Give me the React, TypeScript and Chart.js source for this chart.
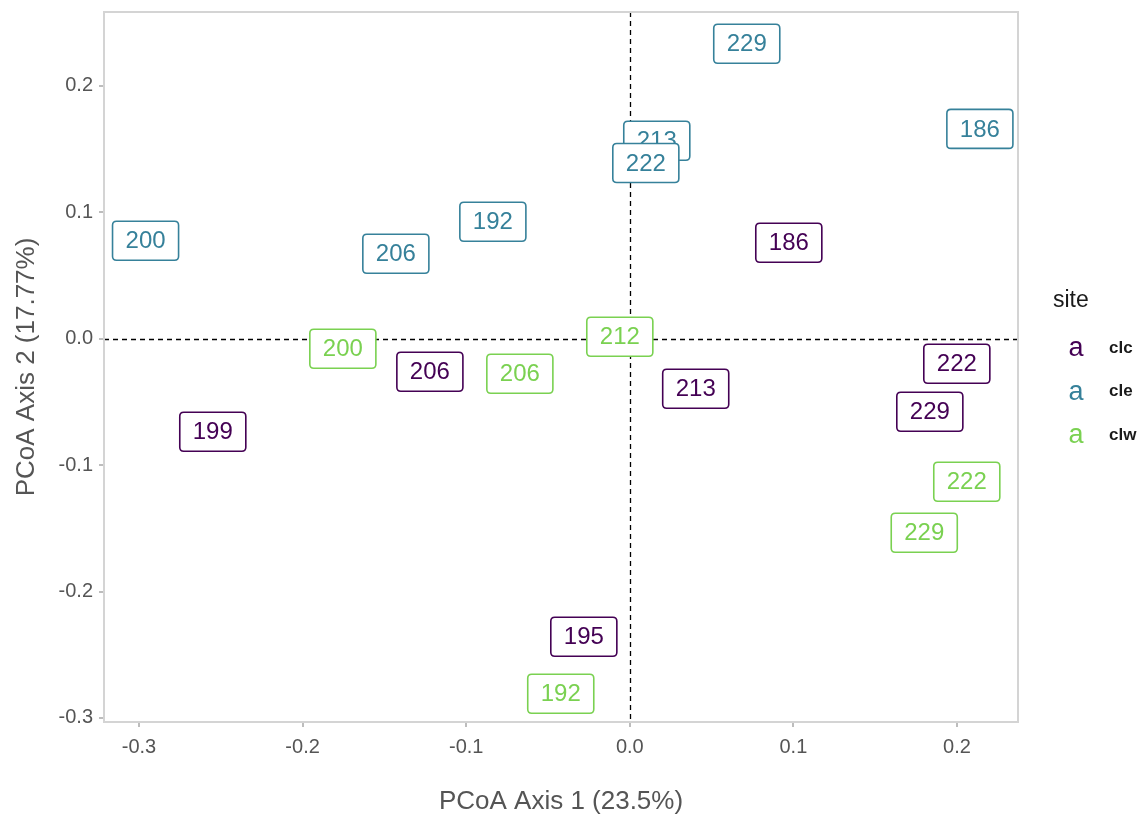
import React, { useEffect, useRef } from "react";
import { Chart, registerables } from "chart.js";

Chart.register(...registerables);

const siteNames = ["clc", "cle", "clw"];
const siteColors = ["#440154", "#36819A", "#7AD151"];

const clcLabels = ["186", "222", "229", "213", "206", "199", "195"];
const clcX = [0.0972, 0.1999, 0.1834, 0.0403, -0.1222, -0.2549, -0.0281];
const clcY = [0.076, -0.0198, -0.0578, -0.0396, -0.0261, -0.0736, -0.2358];

const cleLabels = ["229", "186", "213", "222", "192", "206", "200"];
const cleX = [0.0715, 0.214, 0.0165, 0.0098, -0.0837, -0.143, -0.296];
const cleY = [0.2334, 0.166, 0.1566, 0.139, 0.0926, 0.0672, 0.0775];

const clwLabels = ["200", "212", "206", "222", "229", "192"];
const clwX = [-0.1754, -0.0061, -0.0672, 0.206, 0.18, -0.0422];
const clwY = [-0.0079, 0.0016, -0.0277, -0.1131, -0.1535, -0.2809];

const xTicks = [-0.3, -0.2, -0.1, 0.0, 0.1, 0.2];
const yTicks = [-0.3, -0.2, -0.1, 0.0, 0.1, 0.2];

const xTitle = "PCoA Axis 1 (23.5%)";
const yTitle = "PCoA Axis 2 (17.77%)";
const legendTitle = "site";

const FONT = "'Liberation Sans', Arial, sans-serif";

function roundRect(ctx: CanvasRenderingContext2D, x: number, y: number, w: number, h: number, r: number) {
  ctx.beginPath();
  ctx.moveTo(x + r, y);
  ctx.lineTo(x + w - r, y);
  ctx.quadraticCurveTo(x + w, y, x + w, y + r);
  ctx.lineTo(x + w, y + h - r);
  ctx.quadraticCurveTo(x + w, y + h, x + w - r, y + h);
  ctx.lineTo(x + r, y + h);
  ctx.quadraticCurveTo(x, y + h, x, y + h - r);
  ctx.lineTo(x, y + r);
  ctx.quadraticCurveTo(x, y, x + r, y);
  ctx.closePath();
}

const panelPlugin = {
  id: "panel",
  beforeDatasetsDraw(chart: any) {
    const { ctx, chartArea, scales } = chart;
    const x0 = scales.x.getPixelForValue(0);
    const y0 = scales.y.getPixelForValue(0);
    ctx.save();
    ctx.strokeStyle = "#000000";
    ctx.lineWidth = 1.3;
    ctx.setLineDash([5, 4]);
    ctx.beginPath();
    ctx.moveTo(Math.round(x0) + 0.5, chartArea.top);
    ctx.lineTo(Math.round(x0) + 0.5, chartArea.bottom);
    ctx.moveTo(chartArea.left, Math.round(y0) + 0.5);
    ctx.lineTo(chartArea.right, Math.round(y0) + 0.5);
    ctx.stroke();
    ctx.restore();
  },
  afterDatasetsDraw(chart: any) {
    const { ctx, chartArea } = chart;
    ctx.save();
    ctx.font = `24px ${FONT}`;
    ctx.textAlign = "center";
    ctx.textBaseline = "middle";
    chart.data.datasets.forEach((ds: any, di: number) => {
      const meta = chart.getDatasetMeta(di);
      meta.data.forEach((pt: any, i: number) => {
        const label = ds.labelsText[i];
        const tw = ctx.measureText(label).width;
        const w = tw + 26;
        const h = 39;
        const x = pt.x - w / 2;
        const y = pt.y - h / 2;
        roundRect(ctx, x, y, w, h, 4);
        ctx.fillStyle = "#ffffff";
        ctx.fill();
        ctx.lineWidth = 1.6;
        ctx.strokeStyle = ds.borderColor;
        ctx.stroke();
        ctx.fillStyle = ds.borderColor;
        ctx.fillText(label, pt.x, pt.y + 1);
      });
    });
    // panel border
    ctx.strokeStyle = "#D4D4D4";
    ctx.lineWidth = 2;
    ctx.setLineDash([]);
    ctx.strokeRect(chartArea.left, chartArea.top, chartArea.right - chartArea.left, chartArea.bottom - chartArea.top);
    // legend
    ctx.textAlign = "left";
    ctx.textBaseline = "middle";
    ctx.fillStyle = "#1a1a1a";
    ctx.font = `23px ${FONT}`;
    ctx.fillText(legendTitle, 1053, 301);
    siteNames.forEach((name, i) => {
      const cy = 348 + i * 43.5;
      ctx.font = `27px ${FONT}`;
      ctx.fillStyle = siteColors[i];
      ctx.textAlign = "center";
      ctx.fillText("a", 1076, cy + 1);
      ctx.font = `bold 17px ${FONT}`;
      ctx.fillStyle = "#1a1a1a";
      ctx.textAlign = "left";
      ctx.fillText(name, 1109, cy);
    });
    ctx.restore();
  },
};

function mk(xs: number[], ys: number[], labels: string[], i: number) {
  return {
    label: siteNames[i],
    data: xs.map((x, k) => ({ x, y: ys[k] })),
    labelsText: labels,
    borderColor: siteColors[i],
    backgroundColor: siteColors[i],
    pointRadius: 0,
  };
}

export default function App() {
  const ref = useRef<HTMLCanvasElement | null>(null);
  useEffect(() => {
    if (!ref.current) return;
    const fmt = (v: any) => {
      const n = Math.round(Number(v) * 10) / 10;
      return (n === 0 ? 0 : n).toFixed(1);
    };
    const chart = new Chart(ref.current, {
      type: "scatter",
      data: {
        datasets: [
          mk(clcX, clcY, clcLabels, 0),
          mk(cleX, cleY, cleLabels, 1),
          mk(clwX, clwY, clwLabels, 2),
        ] as any,
      },
      options: {
        animation: false,
        responsive: false,
        events: [],
        layout: { padding: { left: 0, top: 0, right: 126, bottom: 0 } },
        plugins: { legend: { display: false }, tooltip: { enabled: false } },
        scales: {
          x: {
            type: "linear",
            min: -0.3214,
            max: 0.2373,
            afterBuildTicks: (s: any) => {
              s.ticks = xTicks.map((v) => ({ value: v }));
            },
            afterFit: (s: any) => {
              s.height = 95;
            },
            border: { display: false },
            grid: { drawOnChartArea: false, tickLength: 5, color: "#BDBDBD", lineWidth: 2 },
            ticks: { callback: fmt, color: "#555555", font: { size: 20, family: FONT }, padding: 8, maxRotation: 0 },
            title: { display: true, text: xTitle, color: "#555555", font: { size: 26, family: FONT }, padding: { top: 0, bottom: 0 } },
          },
          y: {
            type: "linear",
            min: -0.3032,
            max: 0.2585,
            afterBuildTicks: (s: any) => {
              s.ticks = yTicks.map((v) => ({ value: v }));
            },
            afterFit: (s: any) => {
              s.width = 104;
              s.paddingTop = 12;
              s.paddingBottom = 0;
            },
            border: { display: false },
            grid: { drawOnChartArea: false, tickLength: 5, color: "#BDBDBD", lineWidth: 2 },
            ticks: { callback: fmt, color: "#555555", font: { size: 20, family: FONT }, padding: 6 },
            title: { display: true, text: yTitle, color: "#555555", font: { size: 26, family: FONT }, padding: { bottom: 0, top: 11 } },
          },
        },
      },
      plugins: [panelPlugin],
    });
    return () => chart.destroy();
  }, []);
  return (
    <div style={{ position: "absolute", left: 0, top: 0, width: 1144, height: 817, background: "#fff" }}>
      <canvas ref={ref} width={1144} height={817} style={{ display: "block" }} />
    </div>
  );
}
